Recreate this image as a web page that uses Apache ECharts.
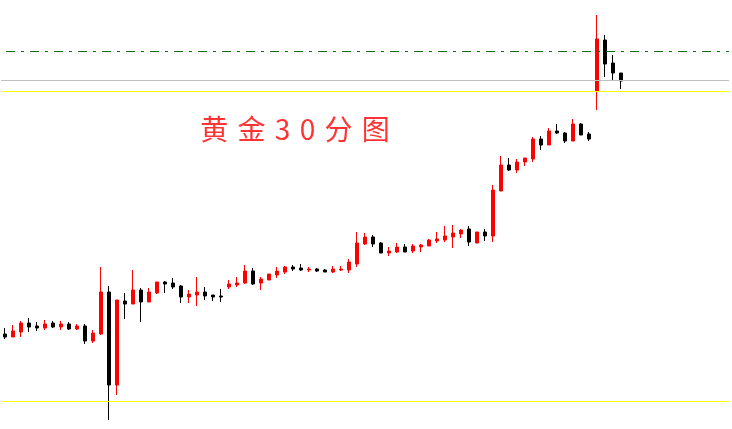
<!DOCTYPE html>
<html>
<head>
<meta charset="utf-8">
<script src="https://cdn.jsdelivr.net/npm/echarts@6/dist/echarts.min.js"></script>
<style>
  html, body { margin: 0; padding: 0; background: #ffffff; }
  #chart { width: 732px; height: 429px; }
</style>
</head>
<body>
<div id="chart"></div>
<script>
// ---- Data (30-minute gold bars, price units) ----
const titleText = '黄\u2004金\u20043\u20040\u2004分\u2004图';
const slotCount = 91; // chart has room for 91 bars, 78 drawn
const categories = Array.from({ length: slotCount }, (_, i) => String(i + 1));

const openPrices = [
  95, 92, 97, 106, 103, 101, 106, 102, 105, 100,
  103, 88, 95, 137, 44, 128, 125, 139, 127, 136,
  147, 146, 143, 132, 134, 137, 134, 133, 142, 144,
  146, 158, 146, 149, 154, 157, 162, 161, 159, 160,
  159, 157, 159, 159, 165, 185, 192, 186, 176, 177,
  182, 178, 182, 183, 188, 189, 192, 195, 200, 186,
  197, 193, 238, 264, 259, 267, 270, 290, 284, 298,
  296, 288, 305, 295, 338, 389, 366, 356
];
const closePrices = [
  92, 98, 106, 102, 101, 105, 102, 105, 100, 103,
  88, 96, 137, 44, 129, 125, 139, 127, 137, 147,
  145, 142, 132, 135, 137, 133, 132, 132, 145, 146,
  158, 145, 150, 155, 158, 162, 160, 159, 160, 158,
  157, 160, 160, 167, 186, 192, 185, 176, 178, 182,
  177, 183, 184, 189, 190, 193, 196, 199, 187, 197,
  193, 239, 264, 259, 267, 271, 290, 284, 298, 296,
  288, 305, 294, 290, 390, 365, 356, 348
];
const lowPrices = [
  90, 92, 92, 97, 98, 99, 101, 99, 99, 99,
  85, 86, 94, 9, 34, 110, 125, 107, 127, 135,
  136, 140, 126, 126, 123, 129, 128, 127, 140, 142,
  145, 144, 139, 149, 151, 155, 158, 158, 157, 157,
  157, 156, 158, 156, 162, 184, 182, 176, 173, 176,
  177, 176, 177, 183, 186, 187, 181, 191, 183, 186,
  188, 187, 238, 258, 256, 263, 267, 279, 284, 295,
  286, 288, 294, 288, 319, 352, 349, 340
];
const highPrices = [
  101, 104, 108, 111, 107, 109, 108, 108, 107, 105,
  105, 99, 162, 143, 129, 136, 159, 141, 141, 147,
  148, 151, 144, 139, 152, 142, 134, 140, 149, 152,
  164, 161, 152, 155, 162, 163, 164, 165, 162, 161,
  160, 163, 163, 170, 197, 196, 194, 187, 182, 186,
  185, 185, 185, 190, 197, 203, 204, 200, 203, 197,
  200, 244, 273, 271, 270, 271, 292, 293, 301, 305,
  297, 310, 306, 297, 414, 394, 374, 356
];

// Horizontal reference levels
const yellowLevels = [28, 338];
const greyLevels = [349];
const greenLevels = [378];

// ---- Build chart ----
const candleData = openPrices.map((o, i) => [o, closePrices[i], lowPrices[i], highPrices[i]]);

const levelLines = [].concat(
  yellowLevels.map(v => ({ yAxis: v, lineStyle: { color: '#ffff00', width: 1, type: 'solid' } })),
  greyLevels.map(v => ({ yAxis: v, lineStyle: { color: '#c0c0c0', width: 1, type: 'solid' } })),
  greenLevels.map(v => ({ yAxis: v, lineStyle: { color: '#0a6e0a', width: 1, type: [9, 6, 3, 6], dashOffset: 19 } }))
);

const chart = echarts.init(document.getElementById('chart'), null, { renderer: 'canvas' });
chart.setOption({
  animation: false,
  backgroundColor: '#ffffff',
  grid: { left: 1, right: 3, top: 0, bottom: 0, containLabel: false },
  xAxis: {
    type: 'category',
    data: categories,
    boundaryGap: true,
    show: false
  },
  yAxis: {
    type: 'value',
    min: 0,
    max: 429,
    show: false,
    splitLine: { show: false }
  },
  graphic: [{
    type: 'text',
    x: 295,
    y: 129,
    silent: true,
    style: {
      text: titleText,
      fill: '#ff3333',
      font: '28px "Noto Sans CJK SC"',
      textAlign: 'center',
      textVerticalAlign: 'middle',
      align: 'center',
      verticalAlign: 'middle'
    }
  }],
  series: [{
    type: 'candlestick',
    data: candleData,
    barWidth: 4,
    itemStyle: {
      color: '#ff0000',
      color0: '#000000',
      borderColor: '#ff0000',
      borderColor0: '#000000',
      borderWidth: 1
    },
    markLine: {
      silent: true,
      symbol: ['none', 'none'],
      label: { show: false },
      animation: false,
      data: levelLines
    }
  }]
});
</script>
</body>
</html>
